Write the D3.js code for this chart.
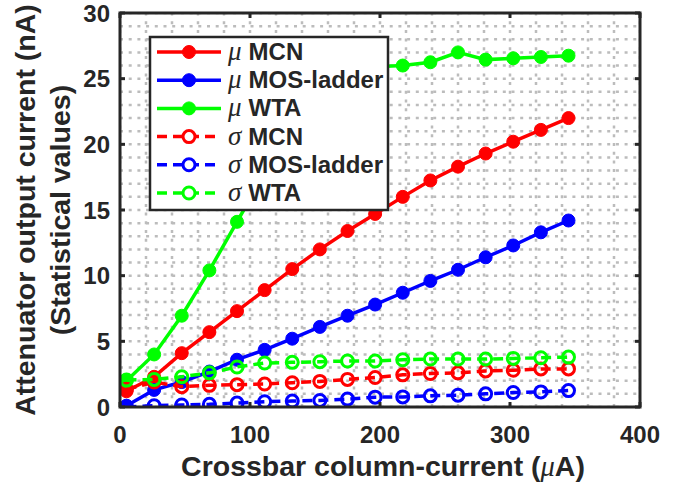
<!DOCTYPE html>
<meta charset="utf-8">
<style>
    body { margin: 0; background: #fff; }
    text { font-family: "Liberation Sans", Arial, sans-serif; font-weight: bold; fill: #262626; }
    .greek { font-family: "Liberation Serif", "DejaVu Serif", serif; font-style: italic; font-weight: normal; }
</style>
<title>Attenuator output current</title>
<body>
<script src="https://d3js.org/d3.v7.min.js"></script>
<script>
    // crossbar column-current (uA)
    const current = [5, 26.25, 47.5, 68.75, 90, 111.25, 132.5, 153.75, 175, 196.25, 217.5, 238.75, 260, 281.25, 302.5, 323.75, 345];

    // mean values (nA)
    const muMCN = [1.2, 2.3, 4.1, 5.7, 7.3, 8.9, 10.5, 12.0, 13.4, 14.7, 16.0, 17.25, 18.3, 19.3, 20.2, 21.1, 22.0];
    const muMOS = [0.1, 1.3, 1.9, 2.7, 3.6, 4.35, 5.2, 6.1, 6.95, 7.8, 8.7, 9.6, 10.45, 11.4, 12.3, 13.3, 14.2];
    const muWTA = [2.0, 4.0, 6.95, 10.4, 14.1, 17.8, 21.0, 23.4, 25.0, 25.9, 26.0, 26.25, 27.0, 26.45, 26.55, 26.65, 26.75];

    // standard deviations (nA)
    const sdMCN = [1.35, 1.9, 1.55, 1.65, 1.7, 1.75, 1.85, 1.95, 2.1, 2.25, 2.45, 2.55, 2.6, 2.75, 2.8, 2.9, 2.9];
    const sdMOS = [0.0, 0.1, 0.15, 0.2, 0.3, 0.4, 0.45, 0.5, 0.6, 0.75, 0.77, 0.85, 0.9, 1.0, 1.1, 1.15, 1.25];
    const sdWTA = [2.05, 2.1, 2.3, 2.6, 3.05, 3.35, 3.4, 3.45, 3.5, 3.5, 3.6, 3.65, 3.65, 3.65, 3.7, 3.75, 3.8];

    const xTicks = [0, 100, 200, 300, 400];
    const yTicks = [0, 5, 10, 15, 20, 25, 30];

    const series = [
        { sym: 'μ', name: 'MCN', values: muMCN, color: '#ff0000', dashed: false },
        { sym: 'μ', name: 'MOS-ladder', values: muMOS, color: '#0000ff', dashed: false },
        { sym: 'μ', name: 'WTA', values: muWTA, color: '#00ff00', dashed: false },
        { sym: 'σ', name: 'MCN', values: sdMCN, color: '#ff0000', dashed: true },
        { sym: 'σ', name: 'MOS-ladder', values: sdMOS, color: '#0000ff', dashed: true },
        { sym: 'σ', name: 'WTA', values: sdWTA, color: '#00ff00', dashed: true }
    ];

    var width = 694, height = 487;
    const pLeft = 120, pRight = 640, pTop = 13, pBottom = 407;

    let x = d3.scaleLinear().domain([0, 400]).range([pLeft, pRight]);
    let y = d3.scaleLinear().domain([0, 30]).range([pBottom, pTop]);

    let svg = d3.select('body').append('svg')
        .attr('width', width)
        .attr('height', height);

    svg.append('defs').append('clipPath').attr('id', 'plot')
        .append('rect').attr('x', pLeft).attr('y', pTop)
        .attr('width', pRight - pLeft).attr('height', pBottom - pTop);

    //dotted grid, minor lines included
    let grid = svg.append('g').attr('clip-path', 'url(#plot)')
        .attr('stroke', '#bcbcbc').attr('stroke-width', 2.5).attr('stroke-dasharray', '3,5.7');
    grid.selectAll('.vg').data(d3.range(0, 401, 20)).enter().append('line')
        .attr('x1', d => x(d)).attr('x2', d => x(d))
        .attr('y1', pBottom).attr('y2', pTop);
    grid.selectAll('.hg').data(d3.range(0, 31, 1)).enter().append('line')
        .attr('y1', d => y(d)).attr('y2', d => y(d))
        .attr('x1', pLeft).attr('x2', pRight);

    let line = d3.line().x((d, i) => x(current[i])).y(d => y(d));

    let plot = svg.append('g').attr('clip-path', 'url(#plot)');
    series.forEach(s => {
        plot.append('path')
            .attr('d', line(s.values))
            .attr('fill', 'none')
            .attr('stroke', s.color)
            .attr('stroke-width', 3.5)
            .attr('stroke-dasharray', s.dashed ? '10,6' : null);
        plot.selectAll(null).data(s.values).enter().append('circle')
            .attr('cx', (d, i) => x(current[i]))
            .attr('cy', d => y(d))
            .attr('r', s.dashed ? 6 : 6.5)
            .attr('fill', s.dashed ? 'none' : s.color)
            .attr('stroke', s.color)
            .attr('stroke-width', s.dashed ? 3 : 1);
    });

    //axes box and inward ticks
    let ax = svg.append('g').attr('stroke', '#262626').attr('stroke-width', 3);
    ax.append('rect').attr('x', pLeft).attr('y', pTop)
        .attr('width', pRight - pLeft).attr('height', pBottom - pTop).attr('fill', 'none');
    xTicks.forEach(t => {
        ax.append('line').attr('x1', x(t)).attr('x2', x(t)).attr('y1', pBottom).attr('y2', pBottom - 5);
        ax.append('line').attr('x1', x(t)).attr('x2', x(t)).attr('y1', pTop).attr('y2', pTop + 5);
    });
    yTicks.forEach(t => {
        ax.append('line').attr('y1', y(t)).attr('y2', y(t)).attr('x1', pLeft).attr('x2', pLeft + 5);
        ax.append('line').attr('y1', y(t)).attr('y2', y(t)).attr('x1', pRight).attr('x2', pRight - 5);
    });

    svg.append('g').selectAll('text').data(xTicks).enter().append('text')
        .attr('x', d => x(d)).attr('y', 443)
        .attr('text-anchor', 'middle').attr('font-size', 24)
        .text(d => d);
    svg.append('g').selectAll('text').data(yTicks).enter().append('text')
        .attr('x', 110).attr('y', d => y(d) + 8.5)
        .attr('text-anchor', 'end').attr('font-size', 24)
        .text(d => d);

    // axis titles
    let xl = svg.append('text').attr('x', 383).attr('y', 476)
        .attr('text-anchor', 'middle').attr('font-size', 28.5);
    xl.append('tspan').text('Crossbar column-current (');
    xl.append('tspan').attr('class', 'greek').text('μ');
    xl.append('tspan').text('A)');

    let yl = svg.append('text').attr('transform', 'translate(35,' + (pTop + pBottom) / 2 + ') rotate(-90)')
        .attr('text-anchor', 'middle').attr('font-size', 28.5);
    yl.append('tspan').attr('x', 0).attr('y', 0).text('Attenuator output current (nA)');
    yl.append('tspan').attr('x', 0).attr('y', 35).text('(Statistical values)');

    // legend
    let lg = svg.append('g');
    lg.append('rect').attr('x', 150).attr('y', 37).attr('width', 238).attr('height', 173)
        .attr('fill', '#fff').attr('stroke', '#262626').attr('stroke-width', 2.5);
    series.forEach((s, i) => {
        let ry = 52 + i * 28.2;
        lg.append('line').attr('x1', 157).attr('x2', 221).attr('y1', ry).attr('y2', ry)
            .attr('stroke', s.color).attr('stroke-width', 3.5)
            .attr('stroke-dasharray', s.dashed ? '10,6' : null);
        lg.append('circle').attr('cx', 189).attr('cy', ry).attr('r', s.dashed ? 6 : 6.5)
            .attr('fill', s.dashed ? '#fff' : s.color)
            .attr('stroke', s.color).attr('stroke-width', s.dashed ? 3 : 1);
        let t = lg.append('text').attr('x', 228).attr('y', ry + 8).attr('font-size', 24);
        t.append('tspan').attr('class', 'greek').attr('font-size', 27).text(s.sym);
        t.append('tspan').attr('dx', 7).text(s.name);
    });
</script>
</body>
